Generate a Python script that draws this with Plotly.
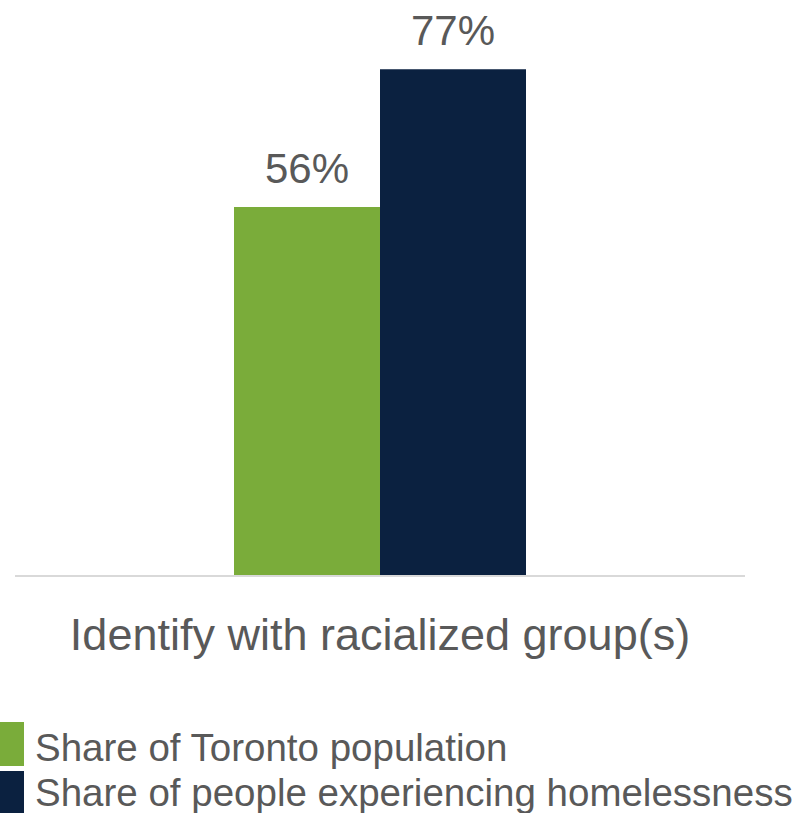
import plotly.graph_objects as go

categories = ["Identify with racialized group(s)"]
series_names = ["Share of Toronto population", "Share of people experiencing homelessness"]
toronto_values = [56]
homeless_values = [77]
colors = ["#7AAC3A", "#0B2140"]

W, H = 795, 813
L, R, T, B = 15, 50, 10, 238
TEXT = "#595959"
FONT = "Liberation Sans, Arial, sans-serif"

fig = go.Figure()
for name, vals, col in zip(series_names, [toronto_values, homeless_values], colors):
    fig.add_trace(go.Bar(x=categories, y=vals, name=name, marker=dict(color=col, line=dict(width=0)),
                         offsetgroup=name, showlegend=False))
    fig.add_trace(go.Scatter(x=categories, y=vals, mode="markers+text", text=[f"{v}%" for v in vals],
                             textposition="top center", offsetgroup=name, showlegend=False,
                             textfont=dict(family=FONT, size=42, color=TEXT),
                             marker=dict(size=20, opacity=0), cliponaxis=False, hoverinfo="skip"))

fig.update_layout(
    width=W, height=H, margin=dict(l=L, r=R, t=T, b=B),
    barmode="group", scattermode="group", bargap=0.6, bargroupgap=0,
    plot_bgcolor="white", paper_bgcolor="white",
    xaxis=dict(showline=True, linecolor="#D9D9D9", linewidth=2, ticks="", showgrid=False,
               tickfont=dict(family=FONT, size=45, color=TEXT),
               ticklabelstandoff=19),
    yaxis=dict(range=[0, 86], visible=False, showgrid=False),
)

plot_h = H - T - B
plot_w = W - L - R
def py(pix):
    return (H - B - pix) / plot_h
def px(pix):
    return (pix - L) / plot_w

legend_boxes = [(722, 766), (771, 813)]
legend_text_y = [747, 792]
for name, col, (y0, y1), ty in zip(series_names, colors, legend_boxes, legend_text_y):
    fig.add_shape(type="rect", xref="paper", yref="paper", x0=px(0), x1=px(24), y0=py(y1), y1=py(y0),
                  fillcolor=col, line=dict(width=0))
    fig.add_annotation(xref="paper", yref="paper", x=px(33), y=py(ty), xanchor="left", yanchor="middle",
                       text=name, showarrow=False,
                       font=dict(family=FONT, size=38.5, color=TEXT))

fig.write_html("out.html", config={"displayModeBar": False},
               post_script="document.body.style.margin='0';document.body.style.overflow='hidden';")
